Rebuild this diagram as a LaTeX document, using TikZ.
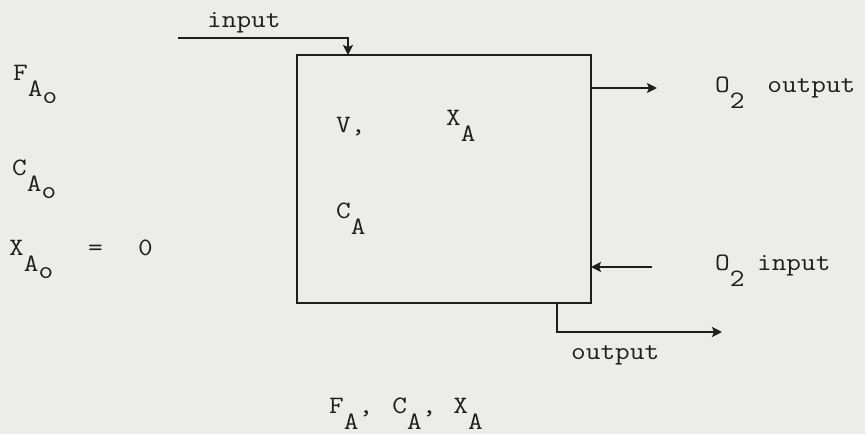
\documentclass[tikz,border=0pt]{standalone}
\usepackage{fontspec}
\usetikzlibrary{arrows.meta}
\definecolor{paper}{RGB}{236,236,232}
\definecolor{ink}{RGB}{30,30,30}
\newcommand\dn[1]{\raisebox{-16pt}{#1}}
\newcommand\dno[1]{\raisebox{-7pt}{#1}}
\newcommand\tw[1]{\scalebox{1.14}[1.0]{#1}}
\tikzset{
  lbl/.style={anchor=base west, inner sep=0pt, text=ink, font=\ttfamily\fontsize{25}{30}\selectfont\addfontfeatures{FakeBold=4}},
  wire/.style={draw=ink, line width=2.3pt},
  arr/.style={wire, -{Stealth[length=10pt,width=10pt,inset=2pt]}},
  reactor/.style={draw=ink, line width=2.3pt, minimum width=294pt, minimum height=248pt, inner sep=0pt}
}
\begin{document}
\begin{tikzpicture}[x=1pt,y=-1pt]
\fill[paper] (0,0) rectangle (865,434);
\useasboundingbox (0,0) rectangle (865,434);
% reactor box
\node[reactor] (box) at (444,179) {};
% connector end points
\coordinate (inS) at (178,38);
\coordinate (inE) at (348,55);
\coordinate (o2oS) at (591,88);
\coordinate (o2oE) at (657,88);
\coordinate (o2iS) at (652,267);
\coordinate (o2iE) at (591,267);
\coordinate (outS) at (557,303);
\coordinate (outE) at (722,332);
% connectors
\draw[arr] (inS) -| (inE);
\draw[arr] (o2oS) -- (o2oE);
\draw[arr] (o2iS) -- (o2iE);
\draw[arr] (outS) |- (outE);
% labels
\node[lbl] (tin) at (207,27) {\tw{input}};
\node[lbl] (to2o) at (715,92) {\tw{O\dn{2}\hspace{20pt}output}};
\node[lbl] (to2i) at (715,270) {\tw{O\dn{2}\hspace{11pt}input}};
\node[lbl] (tout) at (571,359) {\tw{output}};
\node[lbl] (tF) at (13,80) {\tw{F\dn{A\dno{o}}}};
\node[lbl] (tC) at (12,175) {\tw{C\dn{A\dno{o}}}};
\node[lbl] (tX) at (9,255) {\tw{X\dn{A\dno{o}}}};
\node[lbl] (teq) at (88,255) {\tw{=}};
\node[lbl] (tzero) at (138,255) {\tw{0}};
\node[lbl] (tV) at (336,132) {\tw{V,}};
\node[lbl] (tXA) at (446,125) {\tw{X\dn{A}}};
\node[lbl] (tCA) at (336,218) {\tw{C\dn{A}}};
\node[lbl] (tbot) at (329,413) {\tw{F\dn{A},\hspace{4pt} C\dn{A},\hspace{2pt} X\dn{A}}};
\end{tikzpicture}
\end{document}
